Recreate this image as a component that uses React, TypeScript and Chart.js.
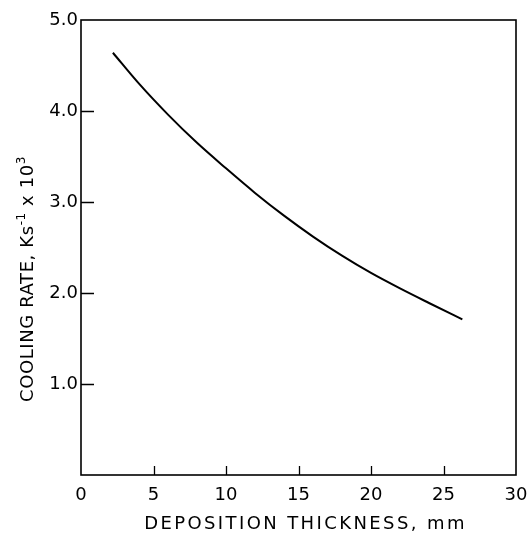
import React, { useEffect, useRef } from "react";
import { Chart, registerables } from "chart.js";

Chart.register(...registerables);

// Data
const thicknessMm = [2.2, 4, 6, 8, 10, 12, 14, 16, 18, 20, 22, 24, 26.3];
const coolingRate = [4.64, 4.3, 3.96, 3.65, 3.37, 3.1, 2.85, 2.62, 2.41, 2.22, 2.05, 1.89, 1.71];
const xTickValues = [0, 5, 10, 15, 20, 25, 30];
const yTickValues = [1, 2, 3, 4, 5];
const xInnerTicks = [5, 10, 15, 20, 25];
const yInnerTicks = [1, 2, 3, 4];
const xTitle = "DEPOSITION THICKNESS, mm";
const yTitleParts: [string, boolean][] = [
  ["COOLING RATE, Ks", false],
  ["-1", true],
  [" x 10", false],
  ["3", true],
];

const FONT = "'DejaVu Sans', sans-serif";

const framePlugin = {
  id: "frame",
  afterDatasetsDraw(chart: any) {
    const { ctx, chartArea, scales } = chart;
    const { left, right, top, bottom } = chartArea;
    ctx.save();
    ctx.strokeStyle = "#000";
    ctx.lineWidth = 1.6;
    ctx.strokeRect(left, top, right - left, bottom - top);
    ctx.lineWidth = 1.3;
    ctx.beginPath();
    for (const v of yInnerTicks) {
      const py = Math.round(scales.y.getPixelForValue(v)) + 0.5;
      ctx.moveTo(left, py);
      ctx.lineTo(left + 13, py);
    }
    for (const v of xInnerTicks) {
      const px = Math.round(scales.x.getPixelForValue(v)) + 0.5;
      ctx.moveTo(px, bottom);
      ctx.lineTo(px, bottom - 9);
    }
    ctx.stroke();

    // x title
    ctx.fillStyle = "#000";
    ctx.font = `18px ${FONT}`;
    (ctx as any).letterSpacing = "2.4px";
    ctx.textAlign = "center";
    ctx.textBaseline = "alphabetic";
    ctx.fillText(xTitle, (left + right) / 2 + 7, 529);

    // y title, rotated, with superscripts
    ctx.translate(33, 279);
    ctx.rotate(-Math.PI / 2);
    ctx.textAlign = "left";
    (ctx as any).letterSpacing = "0.6px";
    const widths = yTitleParts.map(([t, sup]) => {
      ctx.font = sup ? `12px ${FONT}` : `18px ${FONT}`;
      return ctx.measureText(t).width;
    });
    const total = widths.reduce((a, b) => a + b, 0);
    let cx = -total / 2;
    yTitleParts.forEach(([t, sup], i) => {
      ctx.font = sup ? `12px ${FONT}` : `18px ${FONT}`;
      ctx.fillText(t, cx, sup ? -8 : 0);
      cx += widths[i];
    });
    ctx.restore();
  },
};

export default function App() {
  const ref = useRef<HTMLCanvasElement | null>(null);
  useEffect(() => {
    if (!ref.current) return;
    const chart = new Chart(ref.current, {
      type: "line",
      data: {
        datasets: [
          {
            data: thicknessMm.map((x, i) => ({ x, y: coolingRate[i] })),
            borderColor: "#000",
            borderWidth: 2,
            pointRadius: 0,
            cubicInterpolationMode: "monotone",
            fill: false,
          },
        ],
      },
      options: {
        animation: false,
        responsive: false,
        events: [],
        layout: { padding: { top: 20, right: 12, left: 0, bottom: 0 } },
        plugins: { legend: { display: false }, tooltip: { enabled: false }, title: { display: false } },
        scales: {
          x: {
            type: "linear",
            min: 0,
            max: 30,
            afterBuildTicks: (s: any) => {
              s.ticks = xTickValues.map((v) => ({ value: v }));
            },
            afterFit: (s: any) => {
              s.height = 58;
              s.paddingLeft = 0;
              s.paddingRight = 0;
            },
            grid: { display: false, drawTicks: false },
            border: { display: false },
            ticks: {
              color: "#000",
              font: { family: FONT, size: 18 },
              padding: 10,
              maxRotation: 0,
              autoSkip: false,
              callback: (v: any) => String(v),
            },
          },
          y: {
            type: "linear",
            min: 0,
            max: 5,
            afterBuildTicks: (s: any) => {
              s.ticks = yTickValues.map((v) => ({ value: v }));
            },
            afterFit: (s: any) => {
              s.width = 81;
              s.paddingTop = 0;
              s.paddingBottom = 0;
            },
            grid: { display: false, drawTicks: false },
            border: { display: false },
            ticks: {
              color: "#000",
              font: { family: FONT, size: 18 },
              padding: 3,
              autoSkip: false,
              callback: (v: any) => Number(v).toFixed(1),
            },
          },
        },
      },
      plugins: [framePlugin],
    } as any);
    return () => chart.destroy();
  }, []);
  return (
    <div style={{ position: "absolute", left: 0, top: 0, width: 528, height: 533, background: "#fff" }}>
      <canvas ref={ref} width={528} height={533} style={{ display: "block" }} />
    </div>
  );
}
